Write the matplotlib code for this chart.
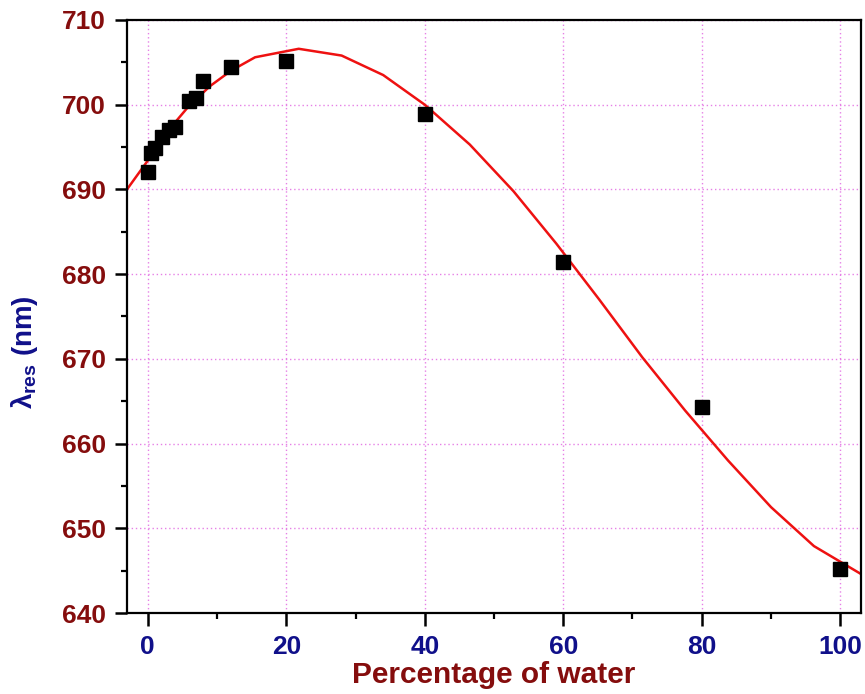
import matplotlib
matplotlib.use("Agg")
import matplotlib.pyplot as plt
from matplotlib.ticker import MultipleLocator

# measured points
water_pct = [0, 0.5, 1, 2, 3, 4, 6, 7, 8, 12, 20, 40, 60, 80, 100]
lambda_res = [692.0, 694.3, 694.9, 696.2, 697.0, 697.4, 700.4, 700.8, 702.8, 704.4, 705.1,
              698.9, 681.4, 664.3, 645.2]

# fitted curve (red)
fit_x = [-3, 0, 3, 6, 9, 12, 15.5, 21.8, 28, 34, 40, 46.5, 52.8, 59, 65.2, 71.4,
         77.6, 83.8, 90, 96.2, 103]
fit_y = [690.0, 693.4, 697.0, 699.9, 702.2, 704.0, 705.6, 706.6, 705.8, 703.5, 700.0,
         695.3, 689.8, 683.6, 677.0, 670.2, 663.9, 658.0, 652.5, 647.9, 644.6]

dark_red = "#850d0d"
navy = "#10108a"

plt.rcParams["font.family"] = "Liberation Sans"
plt.rcParams["font.weight"] = "bold"
plt.rcParams["mathtext.fontset"] = "custom"
plt.rcParams["mathtext.rm"] = "Liberation Sans:bold"
plt.rcParams["mathtext.it"] = "Liberation Sans:bold"
plt.rcParams["mathtext.bf"] = "Liberation Sans:bold"

fig = plt.figure(figsize=(8.65, 6.94), dpi=100)
ax = fig.add_axes([0.1468, 0.1167, 0.9954 - 0.1468, 0.9712 - 0.1167])

ax.plot(fit_x, fit_y, color="#ee1111", lw=1.8, zorder=2)
ax.plot(water_pct, lambda_res, ls="none", marker="s", ms=9.5, color="black", zorder=3)

ax.set_xlim(-3, 103)
ax.set_ylim(640, 710)
ax.xaxis.set_major_locator(MultipleLocator(20))
ax.xaxis.set_minor_locator(MultipleLocator(10))
ax.yaxis.set_major_locator(MultipleLocator(10))
ax.yaxis.set_minor_locator(MultipleLocator(5))

ax.grid(True, which="major", color="#e680e6", ls=(0, (1, 2)), lw=1.0)
ax.set_axisbelow(True)

for s in ax.spines.values():
    s.set_linewidth(1.6)

ax.tick_params(which="major", direction="out", length=9, width=1.8)
ax.tick_params(which="minor", direction="out", length=4.5, width=1.6)
ax.tick_params(axis="y", labelsize=19, labelcolor=dark_red, pad=6)
ax.tick_params(axis="x", labelsize=19, labelcolor=navy, pad=7)
for lab in ax.get_xticklabels() + ax.get_yticklabels():
    lab.set_fontweight("bold")

ax.set_xlabel("Percentage of water", fontsize=21.5, color=dark_red, fontweight="bold", labelpad=1)
ax.set_ylabel(r"$\lambda_{res}$ (nm)", fontsize=20, color=navy, fontweight="bold")
ax.yaxis.set_label_coords(-0.118, 0.44)

fig.savefig("out.png", dpi=100)
